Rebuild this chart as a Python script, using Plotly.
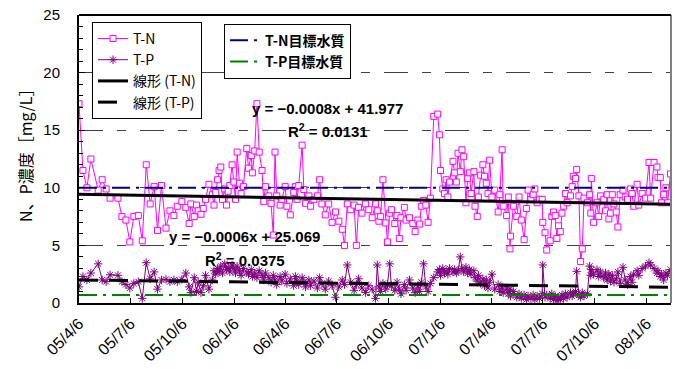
import plotly.graph_objects as go
import pandas as pd

# --- measurement dates (shared by T-N and T-P) -------------------------
dates = [
    "2005-04-06", "2005-04-13", "2005-04-20", "2005-04-27", "2005-05-10", "2005-05-17",
    "2005-05-24", "2005-05-31", "2005-06-14", "2005-06-21", "2005-06-28", "2005-07-05",
    "2005-07-12", "2005-07-20", "2005-07-27", "2005-08-03", "2005-08-10", "2005-08-17",
    "2005-08-23", "2005-08-30", "2005-09-07", "2005-09-14", "2005-09-21", "2005-09-27",
    "2005-10-05", "2005-10-12", "2005-10-18", "2005-10-21", "2005-10-27", "2005-10-31",
    "2005-11-03", "2005-11-08", "2005-11-12", "2005-11-16", "2005-11-22", "2005-11-28",
    "2005-12-01", "2005-12-04", "2005-12-07", "2005-12-10", "2005-12-13", "2005-12-16",
    "2005-12-20", "2005-12-23", "2005-12-26", "2005-12-29", "2006-01-02",
    "2006-01-05", "2006-01-08", "2006-01-11", "2006-01-15", "2006-01-18", "2006-01-22",
    "2006-01-28", "2006-01-31", "2006-02-05", "2006-02-07", "2006-02-11", "2006-02-15",
    "2006-02-19", "2006-02-24", "2006-02-27", "2006-03-02", "2006-03-08", "2006-03-12",
    "2006-03-16", "2006-03-19", "2006-03-22", "2006-03-28", "2006-03-31", "2006-04-06",
    "2006-04-09", "2006-04-15", "2006-04-21", "2006-04-24", "2006-04-27", "2006-04-30",
    "2006-05-06", "2006-05-09", "2006-05-12", "2006-05-18", "2006-05-21", "2006-05-27",
    "2006-06-02", "2006-06-06", "2006-06-10", "2006-06-16", "2006-06-22", "2006-06-28",
    "2006-07-04", "2006-07-10", "2006-07-16", "2006-07-20", "2006-07-25", "2006-07-31",
    "2006-08-06", "2006-08-10", "2006-08-14", "2006-08-20", "2006-08-26", "2006-09-01",
    "2006-09-07", "2006-09-13", "2006-09-16", "2006-09-19", "2006-09-22", "2006-09-26",
    "2006-10-01", "2006-10-04", "2006-10-08", "2006-10-11", "2006-10-17", "2006-10-21",
    "2006-10-25", "2006-10-28", "2006-11-03", "2006-11-06", "2006-11-12", "2006-11-18",
    "2006-11-22", "2006-11-27", "2006-11-30", "2006-12-03", "2006-12-07", "2006-12-11",
    "2006-12-15", "2006-12-19", "2006-12-25", "2007-01-01", "2007-01-04", "2007-01-06",
    "2007-01-10", "2007-01-13", "2007-01-16", "2007-01-19", "2007-01-22", "2007-01-28",
    "2007-01-31", "2007-02-03", "2007-02-06", "2007-02-10", "2007-02-13", "2007-02-16",
    "2007-02-20", "2007-02-23", "2007-02-26", "2007-03-01", "2007-03-06", "2007-03-08",
    "2007-03-12", "2007-03-14", "2007-03-18", "2007-03-22", "2007-03-25", "2007-03-28",
    "2007-03-31", "2007-04-03", "2007-04-07", "2007-04-12", "2007-04-18", "2007-04-21",
    "2007-04-25", "2007-04-27", "2007-05-03", "2007-05-06", "2007-05-09", "2007-05-10",
    "2007-05-15", "2007-05-21", "2007-05-25", "2007-05-29", "2007-06-03", "2007-06-07",
    "2007-06-10", "2007-06-15", "2007-06-19", "2007-06-22", "2007-06-26", "2007-06-30",
    "2007-07-05", "2007-07-06", "2007-07-10", "2007-07-13", "2007-07-19", "2007-07-22",
    "2007-07-25", "2007-07-28", "2007-07-31", "2007-08-03", "2007-08-06", "2007-08-09",
    "2007-08-12", "2007-08-15", "2007-08-18", "2007-08-24", "2007-08-27", "2007-08-29",
    "2007-09-02", "2007-09-04", "2007-09-08", "2007-09-11", "2007-09-14", "2007-09-17",
    "2007-09-23", "2007-09-27", "2007-09-29", "2007-09-30", "2007-10-04", "2007-10-10",
    "2007-10-13", "2007-10-16", "2007-10-22", "2007-10-25", "2007-10-28", "2007-10-31",
    "2007-11-03", "2007-11-06", "2007-11-09", "2007-11-13", "2007-11-16", "2007-11-20",
    "2007-11-25", "2007-11-29", "2007-12-03", "2007-12-08", "2007-12-11", "2007-12-14",
    "2007-12-20", "2007-12-23", "2007-12-29", "2008-01-04", "2008-01-10", "2008-01-13",
    "2008-01-19", "2008-01-24", "2008-01-26", "2008-01-30", "2008-02-01", "2008-02-05",
    "2008-02-09", "2008-02-12", "2008-02-17",
]

# --- total nitrogen [mg/L] ----------------------------------------------
tn = [
    17.3, 11.5, 10.0, 12.5, 9.8, 10.7,
    9.9, 9.1, 9.1, 7.5, 7.2, 5.3,
    7.5, 7.6, 5.4, 12.0, 8.6, 10.1,
    6.3, 10.2, 6.5, 8.0, 7.6, 8.4,
    8.8, 8.3, 6.9, 8.6, 7.5, 8.5,
    8.0, 7.7, 8.2, 9.0, 10.3, 9.4,
    8.5, 9.6, 10.7, 11.5, 11.8, 9.0,
    9.9, 8.5, 9.7, 10.2, 12.0,
    10.5, 9.0, 13.1, 10.4, 9.5, 10.1,
    13.4, 11.7, 12.8, 11.3, 13.2, 17.3,
    13.1, 11.5, 8.8, 10.1, 9.3, 8.65,
    5.9, 13.1, 9.3, 8.5, 9.0, 10.1,
    8.4, 7.65, 9.6, 10.1, 9.0, 10.2,
    13.7, 9.85, 8.65, 9.3, 8.4, 9.0,
    9.3, 10.7, 8.6, 7.65, 8.6, 7.0,
    7.9, 7.1, 6.4, 5.0, 8.6, 8.1,
    8.5, 5.0, 8.3, 7.8, 8.6, 8.1,
    7.4, 8.6, 8.0, 7.1, 7.5, 10.7,
    6.95, 5.3, 7.8, 8.1, 6.9, 7.6,
    5.6, 7.4, 8.3, 7.2, 7.4, 6.9,
    6.2, 7.2, 6.85, 8.4, 8.9, 8.5,
    7.0, 9.1, 16.2, 16.4, 14.6, 11.5,
    9.9, 9.5, 10.7, 9.2, 10.5, 12.3,
    11.3, 10.5, 13.0, 11.4, 13.3, 12.7,
    8.7, 10.8, 11.3, 9.5, 11.4, 8.4,
    7.5, 9.2, 11.1, 12.0, 11.0, 10.4,
    9.5, 12.4, 9.2, 9.8, 7.9, 9.4,
    13.3, 8.4, 7.6, 9.2, 4.7, 5.8,
    8.4, 7.5, 9.2, 7.2, 5.5, 8.2,
    9.8, 9.0, 9.4, 9.9, 8.7, 9.0,
    9.0, 7.0, 6.1, 4.6, 5.4, 7.5,
    7.9, 7.6, 5.6, 6.7, 6.2, 7.8,
    8.4, 9.5, 8.7, 9.3, 10.1, 11.0,
    10.8, 11.6, 9.3, 3.6, 4.7, 9.1,
    8.7, 9.4, 7.8, 10.8, 7.0, 8.7,
    7.5, 9.3, 9.0, 8.0, 9.4, 7.3,
    7.8, 9.4, 8.6, 7.9, 6.6, 9.4,
    9.8, 9.2, 9.0, 9.9, 9.5, 8.4,
    10.3, 8.5, 9.5, 9.1, 12.2, 9.1,
    12.2, 11.8, 10.9, 10.9, 8.7, 9.4,
    10.0, 8.7, 11.2,
]

# --- total phosphorus [mg/L] --------------------------------------------
tp = [
    1.4, 2.3, 2.0, 2.6, 3.4, 2.0,
    1.85, 2.45, 2.4, 1.85, 1.6, 1.3,
    1.7, 1.85, 0.4, 3.5, 2.1, 2.7,
    1.2, 2.0, 2.05, 1.85, 2.0, 1.85,
    2.05, 2.6, 1.4, 0.9, 2.2, 1.0,
    1.8, 0.9, 1.5, 2.4, 1.2, 2.0,
    2.8, 2.5, 3.0, 2.7, 3.2, 2.6,
    3.4, 2.9, 3.1, 2.7, 3.3,
    3.0, 2.6, 3.2, 2.8, 2.4, 3.0,
    2.7, 2.5, 2.9, 2.3, 2.6, 2.2,
    2.8, 2.4, 2.0, 2.6, 2.2, 1.8,
    2.4, 2.0, 1.6, 2.3, 1.9, 2.5,
    1.7, 2.1, 1.5, 2.3, 1.9, 1.6,
    2.2, 1.8, 1.4, 2.0, 1.5, 1.9,
    1.3, 2.2, 1.7, 1.2, 1.9, 1.5,
    0.5, 1.4, 2.0, 1.6, 3.3, 1.8,
    1.1, 1.6, 2.1, 1.3, 0.9, 1.5,
    1.2, 0.4, 3.3, 1.4, 1.0, 1.7,
    1.2, 1.6, 3.4, 1.5, 1.1, 1.8,
    1.2, 0.8, 1.6, 1.1, 2.0, 1.3,
    0.9, 1.5, 1.0, 1.8, 3.4, 1.4,
    1.0, 1.7, 2.2, 2.7, 2.9, 2.4,
    3.0, 2.6, 2.8, 2.5, 3.0, 2.7,
    2.9, 2.6, 2.8, 4.0, 3.0, 2.7,
    3.1, 2.6, 2.9, 2.5, 2.8, 2.2,
    1.9, 2.4, 1.7, 2.1, 1.5, 2.0,
    1.3, 1.8, 2.5, 1.2, 1.6, 1.0,
    1.4, 0.9, 1.3, 0.8, 1.2, 0.6,
    1.0, 0.5, 0.8, 0.4, 0.7, 0.3,
    0.6, 0.4, 0.7, 0.3, 0.6, 0.4,
    0.8, 3.3, 0.5, 0.7, 0.4, 0.8,
    0.3, 0.6, 0.2, 0.5, 0.3, 0.7,
    0.4, 0.8, 0.5, 0.9, 0.6, 0.8,
    1.0, 2.75, 0.7, 0.5, 0.9, 0.6,
    0.8, 3.2, 2.4, 2.9, 2.5, 2.9,
    2.3, 2.7, 2.2, 2.6, 2.0, 2.5,
    1.9, 2.4, 1.8, 2.1, 2.7, 1.7,
    3.1, 2.0, 1.6, 2.3, 1.8, 2.5,
    2.8, 2.4, 3.0, 3.2, 3.5, 3.3,
    3.0, 2.6, 2.8, 2.3, 2.5, 2.0,
    2.6, 2.4, 2.9,
]

# --- environmental targets [mg/L] ---------------------------------------
TN_TARGET = 10.0
TP_TARGET = 0.7

# --- linear trend coefficients (x = spreadsheet serial day number) ------
TN_SLOPE, TN_INTERCEPT, TN_R2 = -0.000846, 41.977, 0.0131
TP_SLOPE, TP_INTERCEPT, TP_R2 = -0.0006, 25.069, 0.0375

# --- axis ticks ----------------------------------------------------------
tick_dates = ["2005-04-06", "2005-07-06", "2005-10-06", "2006-01-06", "2006-04-06",
              "2006-07-06", "2006-10-06", "2007-01-06", "2007-04-06", "2007-07-06",
              "2007-10-06", "2008-01-06"]
tick_labels = ["05/4/6", "05/7/6", "05/10/6", "06/1/6", "06/4/6", "06/7/6",
               "06/10/6", "07/1/6", "07/4/6", "07/7/6", "07/10/6", "08/1/6"]
X_RANGE = ["2005-04-06", "2008-02-18"]

FONT = "Liberation Sans, Arial, Noto Sans CJK JP, sans-serif"
JFONT = "Noto Sans CJK JP, Liberation Sans, sans-serif"

dt = pd.to_datetime(dates)
serial_origin = pd.Timestamp("1899-12-30")


def serial(d):
    return (d - serial_origin).days


ends = [dt.min(), dt.max()]
tn_trend = [TN_SLOPE * serial(d) + TN_INTERCEPT for d in ends]
tp_trend = [TP_SLOPE * serial(d) + TP_INTERCEPT for d in ends]

fig = go.Figure()

fig.add_trace(go.Scatter(
    x=dt, y=tn, name="T-N", mode="lines+markers",
    line=dict(color="#FF00FF", width=1),
    marker=dict(symbol="square", size=6, color="white",
                line=dict(color="#FF00FF", width=1)),
    legend="legend",
))
fig.add_trace(go.Scatter(
    x=dt, y=tp, name="T-P", mode="lines+markers",
    line=dict(color="#800080", width=1),
    marker=dict(symbol="asterisk-open", size=7,
                line=dict(color="#800080", width=1)),
    legend="legend",
))
fig.add_trace(go.Scatter(
    x=X_RANGE, y=[TN_TARGET, TN_TARGET], name="<b>T-N目標水質</b>", mode="lines",
    line=dict(color="#000080", width=2, dash="18px,6px,3px,6px"),
    legend="legend2",
))
fig.add_trace(go.Scatter(
    x=X_RANGE, y=[TP_TARGET, TP_TARGET], name="<b>T-P目標水質</b>", mode="lines",
    line=dict(color="#008000", width=2, dash="18px,6px,3px,6px"),
    legend="legend2",
))
fig.add_trace(go.Scatter(
    x=ends, y=tn_trend, name="線形 (T-N)", mode="lines",
    line=dict(color="black", width=3),
    legend="legend",
))
fig.add_trace(go.Scatter(
    x=ends, y=tp_trend, name="線形 (T-P)", mode="lines",
    line=dict(color="black", width=3, dash="19px,11px"),
    legend="legend",
))


def eq_text(slope, intercept):
    return f"y = −{abs(slope):.4f}x + {intercept:.3f}"


annots = [
    dict(x="2006-06-20", y=16.9, text=eq_text(TN_SLOPE, TN_INTERCEPT)),
    dict(x="2006-06-20", y=14.95, text=f"R<sup>2</sup> = {TN_R2:.4f}"),
    dict(x="2006-01-24", y=5.75, text=eq_text(TP_SLOPE, TP_INTERCEPT)),
    dict(x="2006-01-24", y=3.75, text=f"R<sup>2</sup> = {TP_R2:.4f}"),
]
for a in annots:
    fig.add_annotation(x=a["x"], y=a["y"], xref="x", yref="y", text=f"<b>{a['text']}</b>",
                       showarrow=False, font=dict(family=FONT, size=15, color="black"))

fig.add_annotation(x=-0.091, y=0.525, xref="paper", yref="paper",
                   xanchor="center", yanchor="middle",
                   text="N、P濃度［mg/L］", textangle=-90, showarrow=False,
                   font=dict(family=JFONT, size=16, color="black"))

# right frame edge
fig.add_shape(type="line", xref="paper", yref="paper", x0=1, x1=1, y0=0, y1=1,
              line=dict(color="#808080", width=2))

fig.update_layout(
    width=675, height=369,
    margin=dict(l=79, r=4, t=15, b=66, autoexpand=False),
    paper_bgcolor="white", plot_bgcolor="white",
    font=dict(family=FONT, size=15, color="black"),
    showlegend=True,
    legend=dict(x=0.022, y=0.976, xanchor="left", yanchor="top",
                bgcolor="white", bordercolor="black", borderwidth=1,
                font=dict(family=JFONT, size=14), tracegroupgap=0,
                itemwidth=30),
    legend2=dict(x=0.245, y=0.97, xanchor="left", yanchor="top",
                 bgcolor="white", bordercolor="black", borderwidth=1,
                 font=dict(family=JFONT, size=14), itemwidth=30),
)

fig.update_xaxes(
    type="date", range=X_RANGE, automargin=False,
    tickmode="array", tickvals=tick_dates, ticktext=tick_labels,
    tickangle=-45, ticks="inside", ticklen=5, tickcolor="black",
    showline=True, linecolor="black", linewidth=2, mirror=False,
    showgrid=False, zeroline=False, ticklabelstandoff=3,
    tickfont=dict(family=FONT, size=16, color="black"),
)
fig.update_yaxes(
    range=[0, 25], dtick=5, tick0=0, automargin=False,
    ticks="inside", ticklen=6, tickcolor="black",
    minor=dict(dtick=1, ticks="inside", ticklen=4, tickcolor="black", showgrid=False),
    showline=True, linecolor="black", linewidth=2,
    showgrid=True, gridcolor="#404040", gridwidth=1, griddash="24px,14px,9px,14px",
    zeroline=False, ticklabelstandoff=14,
    tickfont=dict(family=FONT, size=15, color="black"),
)

# top frame edge
fig.add_shape(type="line", xref="paper", yref="paper", x0=0, x1=1, y0=1, y1=1,
              line=dict(color="black", width=2))

fig.write_html("out.html")
